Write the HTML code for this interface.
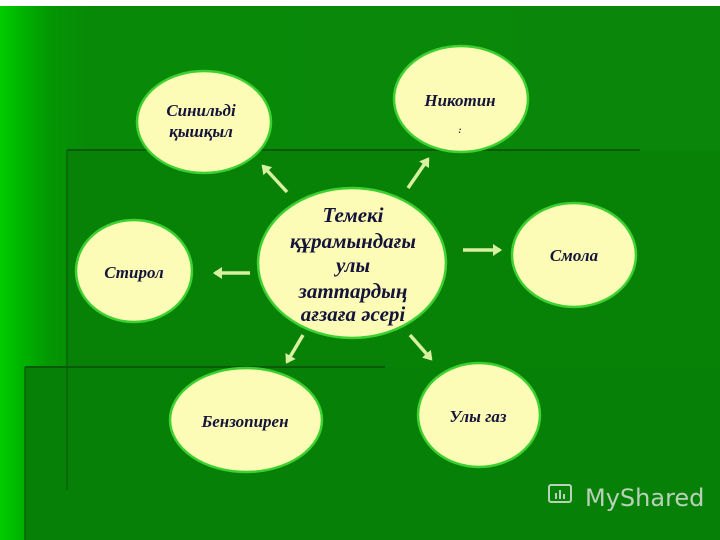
<!DOCTYPE html>
<html><head><meta charset="utf-8"><style>
html,body{margin:0;padding:0;width:720px;height:540px;overflow:hidden;background:#fff}
</style></head><body>
<svg width="720" height="540" viewBox="0 0 720 540" xmlns="http://www.w3.org/2000/svg">
<defs>
<linearGradient id="bg" x1="0" y1="0" x2="1" y2="0">
<stop offset="0" stop-color="#00cc00"/><stop offset="0.03" stop-color="#00b400"/><stop offset="0.07" stop-color="#039603"/><stop offset="0.12" stop-color="#088a08"/><stop offset="1" stop-color="#0a860a"/>
</linearGradient>
<marker id="ah" markerWidth="4" markerHeight="4" refX="2" refY="2" orient="auto" markerUnits="strokeWidth">
<path d="M0,0.3 L2.6,2 L0,3.7 Z" fill="#d8f0a0"/>
</marker>
</defs>
<rect x="0" y="6" width="720" height="534" fill="url(#bg)"/>
<rect x="67" y="150" width="653" height="340" fill="#078207"/>
<rect x="25" y="367" width="695" height="173" fill="#078007"/>
<line x1="67" y1="150" x2="640" y2="150" stroke="#0b5a0b" stroke-width="2"/>
<line x1="67" y1="150" x2="67" y2="490" stroke="#0b620b" stroke-width="1.5"/>
<line x1="25" y1="367" x2="385" y2="367" stroke="#0b5a0b" stroke-width="2"/>
<line x1="25" y1="367" x2="25" y2="540" stroke="#0b620b" stroke-width="1.5"/>
<g stroke="#d8f0a0" stroke-width="3.5" marker-end="url(#ah)">
<line x1="287" y1="192" x2="263" y2="166"/>
<line x1="408" y1="188" x2="428" y2="159"/>
<line x1="463" y1="250" x2="500" y2="250"/>
<line x1="250" y1="273" x2="215" y2="273"/>
<line x1="303" y1="335" x2="287" y2="362"/>
<line x1="410" y1="335" x2="431" y2="359"/>
</g>
<g fill="#fcfcb6" stroke="#3cd030" stroke-width="2.5">
<ellipse cx="204" cy="122" rx="67" ry="51"/>
<ellipse cx="461" cy="99" rx="67" ry="53"/>
<ellipse cx="352" cy="263" rx="94" ry="75"/>
<ellipse cx="134" cy="271" rx="58" ry="51"/>
<ellipse cx="574" cy="255" rx="62" ry="52"/>
<ellipse cx="246" cy="420" rx="76" ry="52"/>
<ellipse cx="479" cy="415" rx="61" ry="52"/>
</g>
<g font-family="Liberation Serif, serif" font-weight="bold" font-style="italic" fill="#14143a" text-anchor="middle" font-size="17">
<text x="201" y="116">Синильді</text>
<text x="201" y="137">қышқыл</text>
<text x="460" y="106">Никотин</text>
<text x="460" y="133" font-size="9">:</text>
<text x="134" y="278">Стирол</text>
<text x="574" y="261">Смола</text>
<text x="245" y="427">Бензопирен</text>
<text x="478" y="422">Улы газ</text>
<g font-size="21">
<text x="353" y="222">Темекі</text>
<text x="353" y="248">құрамындағы</text>
<text x="353" y="272">улы</text>
<text x="353" y="298">заттардың</text>
<text x="353" y="321">ағзаға әсері</text>
</g>
</g>
<g fill="#d8e0d8" opacity="0.85">
<rect x="549" y="485" width="22" height="17" rx="2" fill="none" stroke="#d8e0d8" stroke-width="2"/>
<rect x="555" y="493" width="2" height="6"/><rect x="559" y="490" width="2" height="9"/><rect x="563" y="494" width="2" height="5"/>
<text x="585" y="506" font-family="DejaVu Sans, sans-serif" font-size="24">MyShared</text>
</g>
</svg>
</body></html>
